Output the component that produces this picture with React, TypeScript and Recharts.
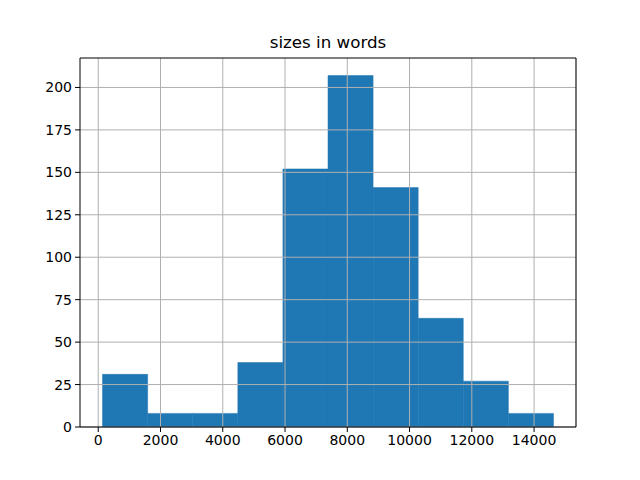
import {
  ComposedChart,
  ReferenceArea,
  ReferenceLine,
  XAxis,
  YAxis,
} from 'recharts'

// histogram of document sizes, 10 bins
const binEdges = [138, 1587, 3035, 4484, 5932, 7381, 8829, 10278, 11726, 13175, 14623]
const binCounts = [31, 8, 8, 38, 152, 207, 141, 64, 27, 8]
const xTicks = [0, 2000, 4000, 6000, 8000, 10000, 12000, 14000]
const yTicks = [0, 25, 50, 75, 100, 125, 150, 175, 200]

const BAR_COLOR = '#1f77b4'
const GRID_COLOR = '#b0b0b0'
const FONT = '"DejaVu Sans", sans-serif'

const X_DOMAIN: [number, number] = [-586, 15347]
const Y_DOMAIN: [number, number] = [0, 217.35]

const bins = binCounts.map((count, i) => ({
  x0: binEdges[i],
  x1: binEdges[i + 1],
  count,
}))

export default function App() {
  const tick = { fill: '#000', fontSize: 14, fontFamily: FONT }

  return (
    <div style={{ position: 'absolute', left: 0, top: 0, width: 640, height: 480, background: '#fff' }}>
      <div
        style={{
          position: 'absolute',
          left: 80,
          width: 496,
          top: 32,
          textAlign: 'center',
          fontFamily: FONT,
          fontSize: 16.7,
          color: '#000',
        }}
      >
        sizes in words
      </div>
      <ComposedChart
        width={640}
        height={480}
        data={bins}
        margin={{ top: 58, right: 64, left: 0, bottom: 0 }}
      >
        <XAxis
          xAxisId="x"
          type="number"
          dataKey="x0"
          domain={X_DOMAIN}
          ticks={xTicks}
          allowDataOverflow
          height={53}
          tick={tick}
          tickSize={5}
          tickMargin={3}
          stroke="#000"
        />
        <YAxis
          yAxisId="y"
          type="number"
          domain={Y_DOMAIN}
          ticks={yTicks}
          allowDataOverflow
          width={80}
          tick={tick}
          tickSize={5}
          tickMargin={3}
          stroke="#000"
        />
        {bins.map((b, i) => (
          <ReferenceArea
            key={`bin-${i}`}
            xAxisId="x"
            yAxisId="y"
            x1={b.x0}
            x2={b.x1}
            y1={0}
            y2={b.count}
            fill={BAR_COLOR}
            fillOpacity={1}
            stroke={BAR_COLOR}
            strokeWidth={0.5}
            ifOverflow="visible"
          />
        ))}
        {xTicks.map((v) => (
          <ReferenceLine key={`gx-${v}`} xAxisId="x" yAxisId="y" x={v} stroke={GRID_COLOR} strokeWidth={1} />
        ))}
        {yTicks.map((v) => (
          <ReferenceLine key={`gy-${v}`} xAxisId="x" yAxisId="y" y={v} stroke={GRID_COLOR} strokeWidth={1} />
        ))}
        {/* top and right spines */}
        <ReferenceLine xAxisId="x" yAxisId="y" y={Y_DOMAIN[1]} stroke="#000" strokeWidth={1.1} ifOverflow="visible" />
        <ReferenceLine xAxisId="x" yAxisId="y" x={X_DOMAIN[1]} stroke="#000" strokeWidth={1.1} ifOverflow="visible" />
      </ComposedChart>
    </div>
  )
}
